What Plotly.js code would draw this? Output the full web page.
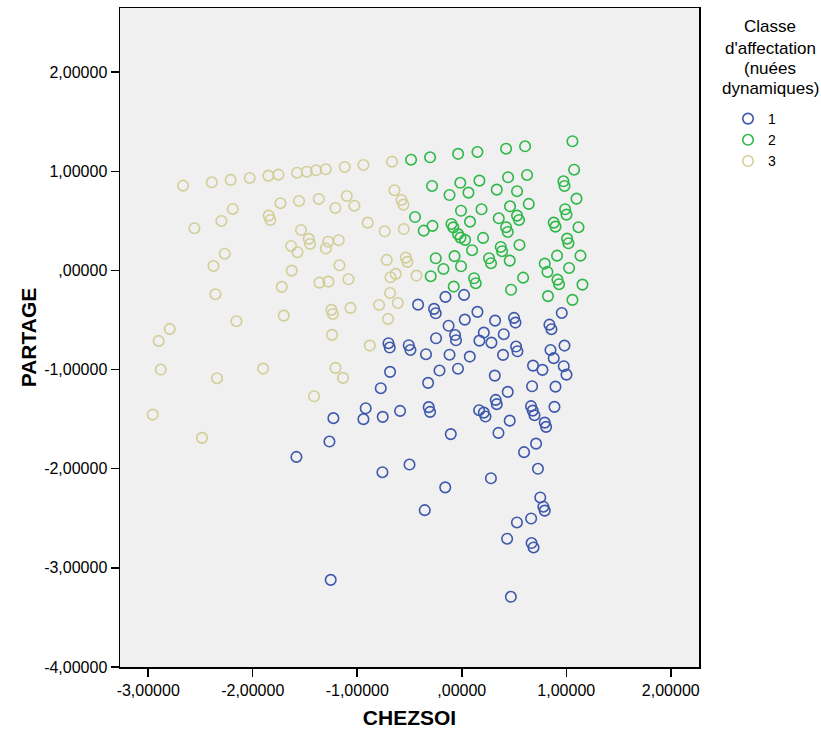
<!DOCTYPE html>
<html>
<head>
<meta charset="utf-8">
<script src="https://cdn.plot.ly/plotly-3.0.1.min.js"></script>
<style>html,body{margin:0;padding:0;background:#fff;}#chart{width:821px;height:738px;}</style>
</head>
<body>
<div id="chart"></div>
<script>
// Classe 1
const class1X = [-0.418,-0.265,-0.249,-0.156,-0.126,-0.064,-0.055,-0.246,-0.701,-0.689,-0.507,-0.491,-0.342,-0.117,-0.036,-0.213,-0.686,-0.322,-0.775,-0.919,-0.941,-0.756,-0.590,-0.316,-0.303,-1.228,-1.266,-0.105,-1.582,-0.759,-0.500,-0.158,-0.354,-1.254,0.022,0.150,0.029,0.319,0.500,0.514,0.957,0.839,0.858,0.211,0.169,0.284,0.402,0.983,0.849,0.880,0.077,0.395,0.520,0.533,0.316,0.682,0.772,0.976,1.002,0.440,0.325,0.335,0.673,0.897,0.166,0.211,0.227,0.459,0.663,0.679,0.696,0.887,0.794,0.807,0.351,0.711,0.596,0.729,0.279,0.751,0.781,0.794,0.664,0.528,0.434,0.668,0.687,0.470];
const class1Y = [-0.345,-0.388,-0.432,-0.267,-0.558,-0.652,-0.704,-0.684,-0.734,-0.778,-0.754,-0.802,-0.845,-0.850,-0.991,-1.010,-1.023,-1.134,-1.188,-1.390,-1.500,-1.477,-1.417,-1.379,-1.427,-1.490,-1.726,-1.651,-1.881,-2.035,-1.958,-2.188,-2.418,-3.121,-0.247,-0.418,-0.496,-0.506,-0.479,-0.526,-0.429,-0.547,-0.593,-0.627,-0.708,-0.728,-0.643,-0.758,-0.802,-0.885,-0.869,-0.852,-0.768,-0.815,-1.061,-0.960,-1.003,-0.966,-1.051,-1.225,-1.306,-1.349,-1.168,-1.172,-1.410,-1.434,-1.474,-1.515,-1.369,-1.414,-1.460,-1.376,-1.535,-1.578,-1.639,-1.747,-1.833,-2.001,-2.096,-2.290,-2.383,-2.423,-2.502,-2.542,-2.706,-2.750,-2.794,-3.292];
// Classe 2
const class2X = [-0.485,-0.303,-0.035,0.150,0.424,0.606,1.059,-0.284,-0.014,0.169,0.443,0.625,1.075,-0.117,0.064,0.335,0.529,0.973,0.983,1.098,0.641,0.462,0.189,-0.007,0.079,0.354,0.529,0.548,0.989,1.002,0.880,0.897,1.117,-0.099,-0.081,-0.035,-0.012,0.032,0.204,0.424,0.440,1.008,1.021,0.552,0.373,0.386,0.099,-0.069,-0.007,0.261,0.280,0.459,0.912,1.136,1.027,0.794,0.820,0.118,0.134,-0.077,0.587,0.472,0.916,0.931,1.155,0.825,1.059,-0.447,-0.364,-0.280,-0.249,-0.175,-0.297];
const class2Y = [1.117,1.141,1.176,1.195,1.228,1.252,1.303,0.852,0.884,0.906,0.940,0.963,1.016,0.761,0.785,0.815,0.799,0.899,0.852,0.724,0.671,0.647,0.617,0.602,0.492,0.526,0.553,0.509,0.617,0.563,0.482,0.442,0.436,0.469,0.434,0.366,0.331,0.308,0.328,0.436,0.388,0.321,0.274,0.257,0.237,0.194,0.204,0.144,0.042,0.123,0.073,0.099,0.149,0.149,0.025,0.069,-0.015,-0.079,-0.129,-0.163,-0.073,-0.195,-0.093,-0.139,-0.143,-0.259,-0.297,0.539,0.401,0.449,0.123,0.015,-0.058];
// Classe 3
const class3X = [-2.667,-2.392,-2.211,-2.029,-1.850,-1.754,-1.576,-1.483,-1.394,-1.301,-1.120,-0.941,-0.667,-2.191,-1.735,-1.557,-1.368,-2.558,-2.300,-1.847,-1.831,-1.538,-1.464,-1.452,-1.633,-1.572,-1.278,-1.301,-2.268,-2.376,-1.627,-1.722,-1.362,-1.276,-2.357,-1.100,-0.644,-0.577,-0.558,-1.209,-1.027,-0.900,-0.737,-0.555,-1.177,-0.718,-0.536,-0.520,-1.170,-0.632,-0.682,-0.433,-1.084,-0.686,-2.794,-2.900,-2.156,-1.703,-2.880,-2.342,-1.901,-1.413,-2.957,-2.485,-1.247,-1.234,-1.065,-0.791,-0.612,-0.705,-1.241,-0.880,-1.209,-1.136];
const class3Y = [0.855,0.889,0.913,0.933,0.956,0.966,0.986,0.996,1.010,1.020,1.044,1.064,1.097,0.620,0.678,0.701,0.721,0.426,0.499,0.553,0.509,0.408,0.318,0.267,0.247,0.184,0.290,0.221,0.169,0.045,-0.002,-0.166,-0.123,-0.113,-0.240,0.751,0.809,0.711,0.664,0.630,0.653,0.482,0.395,0.418,0.305,0.106,0.129,0.086,0.052,-0.035,-0.069,-0.052,-0.089,-0.227,-0.590,-0.711,-0.512,-0.456,-1.000,-1.087,-0.990,-1.269,-1.454,-1.689,-0.398,-0.439,-0.378,-0.348,-0.328,-0.489,-0.650,-0.758,-0.983,-1.084];

const classNames = ["1", "2", "3"];
const legendTitleLines = ["Classe", "d'affectation", "(nuées", "dynamiques)"];
const xTickVals = [-3, -2, -1, 0, 1, 2];
const xTickText = ["-3,00000", "-2,00000", "-1,00000", ",00000", "1,00000", "2,00000"];
const yTickVals = [-4, -3, -2, -1, 0, 1, 2];
const yTickText = ["-4,00000", "-3,00000", "-2,00000", "-1,00000", ",00000", "1,00000", "2,00000"];

const colors = ["#3E58AC", "#2EB848", "#D3CE97"];
const FONT = "Liberation Sans, Arial, sans-serif";

function mk(x, y, name, color) {
  return {
    type: "scatter", mode: "markers", x: x, y: y, name: name,
    marker: { symbol: "circle-open", size: 10.5, color: color, line: { width: 1.6, color: color } },
    hoverinfo: "x+y"
  };
}

const data = [
  mk(class1X, class1Y, classNames[0], colors[0]),
  mk(class2X, class2Y, classNames[1], colors[1]),
  mk(class3X, class3Y, classNames[2], colors[2])
];

// legend title lines as centered annotations (paper coords)
const titleLineY = [27, 48, 68, 89];
const annotations = legendTitleLines.map((t, i) => ({
  text: t, showarrow: false, xref: "paper", yref: "paper",
  x: (770 - 120) / 579, y: (667 - titleLineY[i]) / 659,
  xanchor: "center", yanchor: "middle",
  font: { family: FONT, size: 17, color: "#000" }
}));

const layout = {
  width: 821, height: 738,
  margin: { l: 120, r: 122, t: 8, b: 71, autoexpand: false },
  paper_bgcolor: "#ffffff",
  plot_bgcolor: "#F0F0F0",
  font: { family: FONT, size: 16, color: "#000" },
  showlegend: true,
  legend: {
    x: (728 - 120) / 579, xanchor: "left", y: (667 - 103) / 659, yanchor: "top",
    bgcolor: "rgba(0,0,0,0)",
    font: { family: FONT, size: 14, color: "#000" },
    itemwidth: 30
  },
  annotations: annotations,
  xaxis: {
    range: [-3.27, 2.27],
    tickmode: "array", tickvals: xTickVals, ticktext: xTickText,
    ticks: "outside", ticklen: 8, tickwidth: 1.5, tickcolor: "#000",
    showline: true, linecolor: "#000", linewidth: 1.5, mirror: true,
    showgrid: false, zeroline: false,
    tickfont: { family: FONT, size: 16, color: "#000" },
    title: { text: "<b>CHEZSOI</b>", font: { family: FONT, size: 21, color: "#000" }, standoff: 12 }
  },
  yaxis: {
    range: [-4, 2.647],
    tickmode: "array", tickvals: yTickVals, ticktext: yTickText,
    ticks: "outside", ticklen: 8, tickwidth: 1.5, tickcolor: "#000",
    showline: true, linecolor: "#000", linewidth: 1.5, mirror: true,
    showgrid: false, zeroline: false,
    tickfont: { family: FONT, size: 16, color: "#000" },
    title: { text: "<b>PARTAGE</b>", font: { family: FONT, size: 21, color: "#000" }, standoff: 2 }
  }
};

Plotly.newPlot("chart", data, layout, { displayModeBar: false, staticPlot: true });
</script>
</body>
</html>
